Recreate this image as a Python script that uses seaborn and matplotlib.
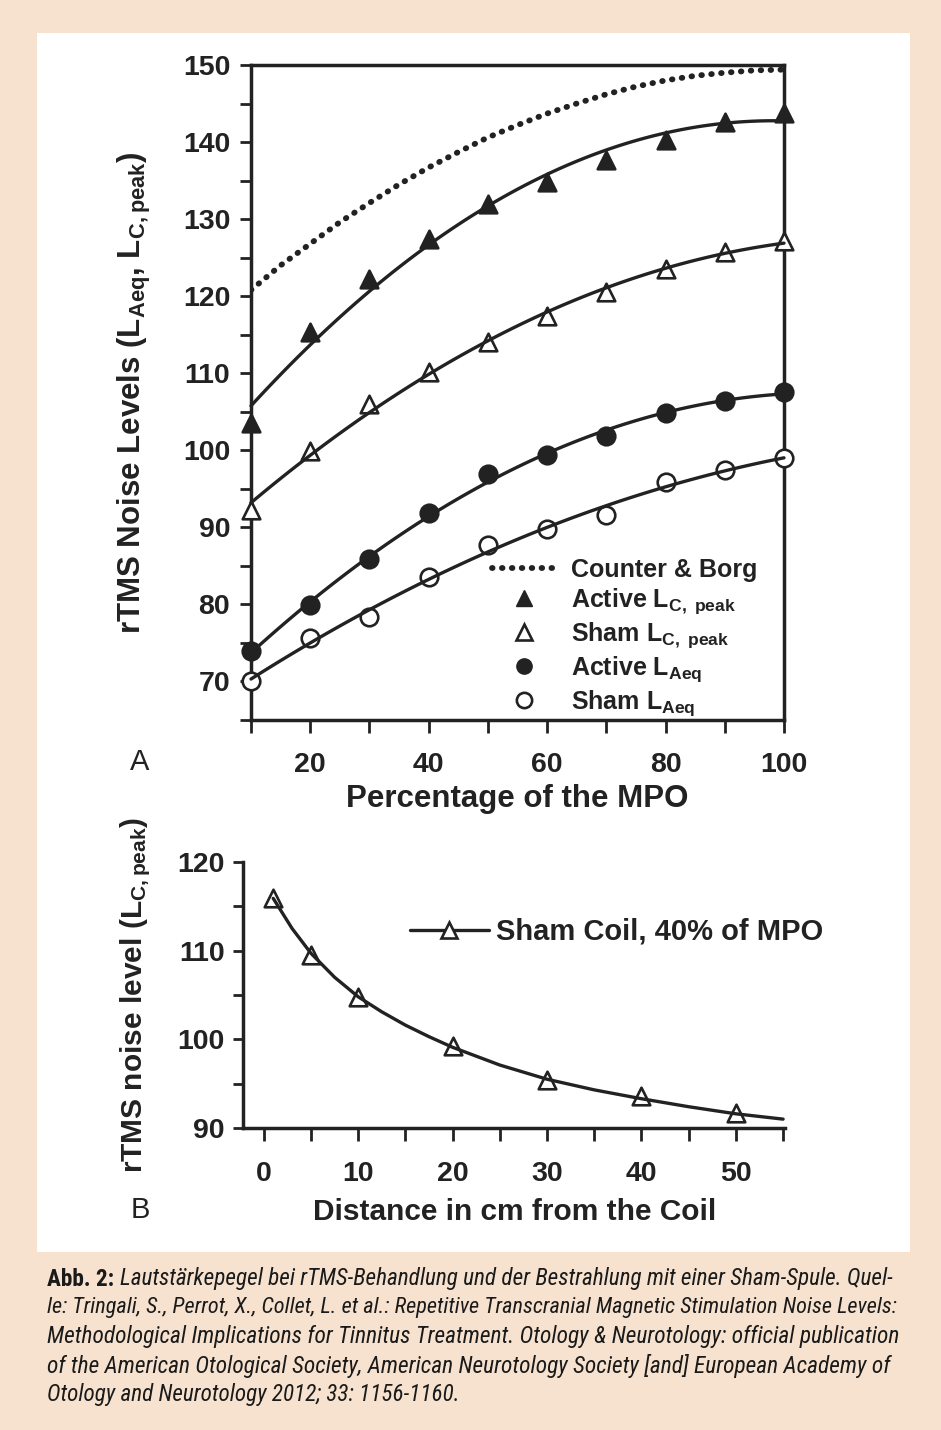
#!/usr/bin/env python3
"""
rTMS noise levels - two panel figure with caption
"""
import matplotlib
matplotlib.use("Agg")
import matplotlib.pyplot as plt
from matplotlib.lines import Line2D
from matplotlib.patches import Rectangle
from matplotlib import font_manager
import seaborn as sns

# ---- data, panel A (percentage of MPO) ----
mpo_pct = [10, 20, 30, 40, 50, 60, 70, 80, 90, 100]
active_lc_peak = [103.5, 115.3, 122.2, 127.4, 132.0, 134.8, 137.7, 140.3, 142.6, 143.8]
sham_lc_peak = [92.2, 99.9, 106.0, 110.1, 114.1, 117.4, 120.5, 123.5, 125.7, 127.2]
active_laeq = [73.9, 79.9, 85.9, 91.8, 96.9, 99.4, 101.9, 104.8, 106.4, 107.6]
sham_laeq = [70.1, 75.6, 78.4, 83.6, 87.7, 89.8, 91.6, 95.9, 97.4, 99.0]

# Counter & Borg reference curve
cb_pct = [10, 15, 20, 25, 30, 35, 40, 45, 50, 55, 60, 65, 70, 75, 80, 85, 90, 95, 100]
cb_level = [120.8, 124.0, 126.8, 129.6, 132.1, 134.5, 136.7, 138.7, 140.6, 142.2,
            143.7, 145.0, 146.2, 147.2, 148.0, 148.6, 149.0, 149.3, 149.4]

# ---- data, panel B (distance from coil) ----
dist_cm = [1, 5, 10, 20, 30, 40, 50]
sham_dist_level = [115.9, 109.5, 104.8, 99.2, 95.4, 93.6, 91.7]
# fitted decay curve
curve_cm = [1, 3, 5, 7.5, 10, 12.5, 15, 17.5, 20, 25, 30, 35, 40, 45, 50, 55]
curve_level = [115.9, 112.5, 109.7, 107.0, 104.8, 103.1, 101.6, 100.3, 99.1,
               97.1, 95.5, 94.3, 93.3, 92.4, 91.6, 91.0]

caption_lines = [
    "Lautstärkepegel bei rTMS-Behandlung und der Bestrahlung mit einer Sham-Spule. Quel-",
    "le: Tringali, S., Perrot, X., Collet, L. et al.: Repetitive Transcranial Magnetic Stimulation Noise Levels:",
    "Methodological Implications for Tinnitus Treatment. Otology & Neurotology: official publication",
    "of the American Otological Society, American Neurotology Society [and] European Academy of",
    "Otology and Neurotology 2012; 33: 1156-1160.",
]

INK = "#222222"
PAGE = "#f6e2cf"
W, H = 941, 1430

sns.set_theme(style="ticks")
plt.rcParams["font.family"] = ["Liberation Sans", "DejaVu Sans"]
plt.rcParams.update({
    "font.weight": "bold",
    "axes.labelweight": "bold",
    "mathtext.fontset": "custom",
    "mathtext.rm": "Liberation Sans:bold",
    "mathtext.it": "Liberation Sans:bold",
    "mathtext.bf": "Liberation Sans:bold",
    "mathtext.default": "rm",
    "text.color": INK,
    "axes.labelcolor": INK,
    "xtick.color": INK,
    "ytick.color": INK,
    "axes.edgecolor": INK,
})

fig = plt.figure(figsize=(W / 100, H / 100), dpi=100, facecolor=PAGE)
fig.patches.append(Rectangle((37 / W, 1 - 1252 / H), (910 - 37) / W, (1252 - 33) / H,
                             transform=fig.transFigure, facecolor="white",
                             edgecolor="none", zorder=-10))


def px_axes(left, top, right, bottom):
    return fig.add_axes([left / W, 1 - bottom / H, (right - left) / W, (bottom - top) / H])


DOTS = (0, (0.1, 1.6))

# ================= Panel A =================
ax = px_axes(251, 65, 784, 720)
ax.set_facecolor("white")
lw = 2.4

sns.lineplot(x=cb_pct, y=cb_level, ax=ax, color=INK, lw=4.2,
             linestyle=DOTS, dash_capstyle="round", zorder=2)

for vals in [active_lc_peak, sham_lc_peak, active_laeq, sham_laeq]:
    sns.regplot(x=mpo_pct, y=vals, order=2, ci=None, scatter=False, ax=ax,
                line_kws=dict(color=INK, lw=lw, zorder=4, clip_on=False))

styles = [
    (active_lc_peak, "^", INK),
    (sham_lc_peak, "^", "white"),
    (active_laeq, "o", INK),
    (sham_laeq, "o", "white"),
]
for vals, mk, face in styles:
    sns.scatterplot(x=mpo_pct, y=vals, ax=ax, marker=mk, s=160, color=face,
                    edgecolor=INK, linewidth=1.9, zorder=3, clip_on=False)

ax.set_xlim(10, 100)
ax.set_ylim(65, 150)
ax.set_xticks([20, 40, 60, 80, 100])
ax.set_xticks(range(10, 101, 10), minor=True)
ax.set_yticks(range(70, 151, 10))
ax.set_yticks(range(65, 151, 5), minor=True)
ax.tick_params(axis="both", which="both", direction="out", width=2, labelsize=20.5)
ax.tick_params(axis="x", which="both", length=9, pad=14)
ax.tick_params(axis="y", which="both", length=8, pad=7)
for sp in ax.spines.values():
    sp.set_linewidth(2.5)
    sp.set_visible(True)

ax.set_xlabel("Percentage of the MPO", fontsize=22.5)
ax.xaxis.set_label_coords(0.499, -0.097)
ax.set_ylabel(r"rTMS Noise Levels (L$_{Aeq}$, L$_{C,peak}$)", fontsize=22.5)
ax.yaxis.set_label_coords(-0.184, 0.5)

handles_a = [
    Line2D([], [], color=INK, lw=4.2, linestyle=DOTS, dash_capstyle="round"),
    Line2D([], [], color=INK, marker="^", ls="none", ms=11, mfc=INK, mec=INK),
    Line2D([], [], color=INK, marker="^", ls="none", ms=11, mfc="white", mec=INK, mew=1.9),
    Line2D([], [], color=INK, marker="o", ls="none", ms=11, mfc=INK, mec=INK),
    Line2D([], [], color=INK, marker="o", ls="none", ms=11, mfc="white", mec=INK, mew=1.9),
]
labels_a = [
    "Counter & Borg",
    r"Active L$_{C,\ peak}$",
    r"Sham L$_{C,\ peak}$",
    r"Active L$_{Aeq}$",
    r"Sham L$_{Aeq}$",
]
ax.legend(handles_a, labels_a, loc="upper left", bbox_to_anchor=(0.452, 0.247),
          frameon=False, fontsize=18, handlelength=2.6, handletextpad=0.55,
          labelspacing=0.17, borderpad=0, borderaxespad=0)

fig.text(140 / W, 1 - 762 / H, "A", fontsize=21, fontweight="normal",
         ha="center", va="center", color=INK)

# ================= Panel B =================
bx = px_axes(243, 862, 785, 1128)
bx.set_facecolor("white")
sns.lineplot(x=curve_cm, y=curve_level, ax=bx, color=INK, lw=lw, zorder=4)
sns.scatterplot(x=dist_cm, y=sham_dist_level, ax=bx, marker="^", s=160, color="white",
                edgecolor=INK, linewidth=1.9, zorder=3, clip_on=False)
bx.set_xlim(-2.2, 55.2)
bx.set_ylim(90, 120)
bx.set_xticks(range(0, 51, 10))
bx.set_xticks(range(0, 56, 5), minor=True)
bx.set_yticks([90, 100, 110, 120])
bx.set_yticks([95, 105, 115], minor=True)
bx.tick_params(axis="both", which="both", direction="out", width=2, labelsize=20.5)
bx.tick_params(axis="x", which="both", length=9, pad=15)
bx.tick_params(axis="y", which="both", length=7, pad=6)
sns.despine(ax=bx)
for sp in ["left", "bottom"]:
    bx.spines[sp].set_linewidth(2.5)

bx.set_xlabel("Distance in cm from the Coil", fontsize=21.5)
bx.xaxis.set_label_coords(0.502, -0.265)
bx.set_ylabel(r"rTMS noise level (L$_{C,peak}$)", fontsize=21.5)
bx.yaxis.set_label_coords(-0.166, 0.5)

handle_b = Line2D([], [], color=INK, lw=lw, marker="^", ms=12, mfc="white", mec=INK, mew=1.9)
bx.legend([handle_b], ["Sham Coil, 40% of MPO"], loc="center left",
          bbox_to_anchor=(0.308, 0.737), frameon=False, fontsize=21,
          handlelength=2.7, handletextpad=0.25, borderpad=0, borderaxespad=0)

fig.text(140 / W, 1 - 1210 / H, "B", fontsize=21, fontweight="normal",
         ha="center", va="center", color=INK)

# ================= Caption =================
names = {f.name for f in font_manager.fontManager.ttflist}
cap_family = "Liberation Sans"
for cand in ["Roboto Condensed", "Liberation Sans Narrow", "Open Sans Condensed"]:
    if cand in names:
        cap_family = cand
        break

renderer = fig.canvas.get_renderer()
x0 = 47 / W
line_y = [1279, 1308, 1337, 1366, 1394]
right_edge = [895, 897, 897, 889, None]
base_fs = 14.5
CAP = "#1a1a1a"

t0 = fig.text(x0, 1 - line_y[0] / H, "Abb. 2: ", fontsize=base_fs, fontweight="bold",
              family=cap_family, va="center", ha="left", color=CAP)

sizes = []
for i, line in enumerate(caption_lines):
    xs = t0.get_window_extent(renderer).x1 / W if i == 0 else x0
    t = fig.text(xs, 1 - line_y[i] / H, line, fontsize=base_fs, fontweight="normal",
                 fontstyle="italic", family=cap_family, va="center", ha="left", color=CAP)
    if right_edge[i] is not None:
        # justify: scale each line so it reaches the printed right margin
        bb = t.get_window_extent(renderer)
        if i == 0:
            bb0 = t0.get_window_extent(renderer)
            fs = base_fs * (right_edge[i] - bb0.x0) / (bb.x1 - bb0.x0)
            t0.set_fontsize(fs)
            t.set_x(t0.get_window_extent(renderer).x1 / W)
        else:
            fs = base_fs * (right_edge[i] - bb.x0) / bb.width
        t.set_fontsize(fs)
        sizes.append(fs)
    else:
        t.set_fontsize(sum(sizes) / len(sizes))

fig.savefig("out.png", dpi=100, facecolor=PAGE)
plt.close(fig)
